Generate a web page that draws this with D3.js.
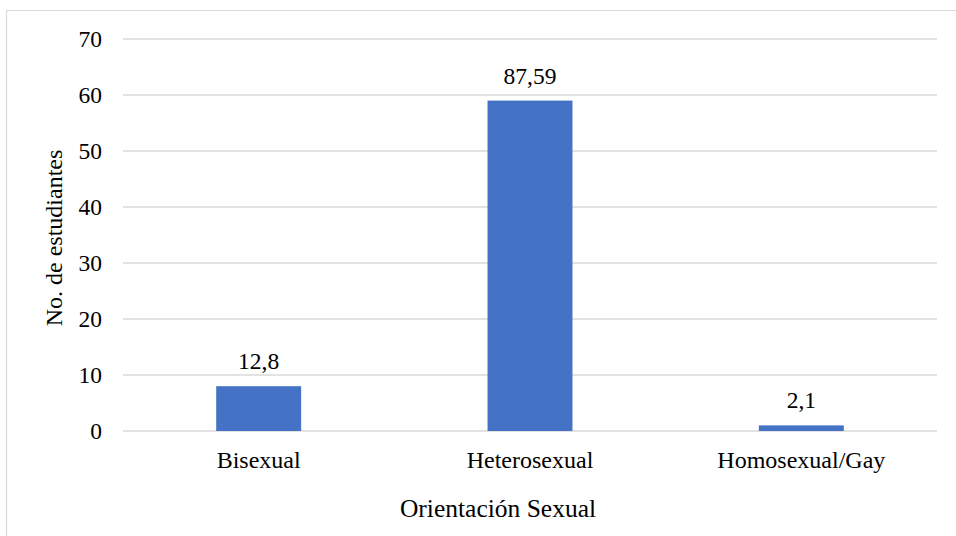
<!DOCTYPE html>
<meta charset="utf-8">

<head>
    <style>
        body {
            margin: 0;
            background: #fff;
        }

        text {
            font-family: "Liberation Serif", "Tinos", "DejaVu Serif", serif;
            fill: #000;
        }
    </style>
    <script src="https://cdn.jsdelivr.net/npm/d3@7"></script>
</head>

<body>
    <script>
        const categories = ["Bisexual", "Heterosexual", "Homosexual/Gay"]
        const counts = [8, 59, 1]
        const percentLabels = ["12,8", "87,59", "2,1"]
        const yTicks = [0, 10, 20, 30, 40, 50, 60, 70]

        const width = 956
        const height = 536
        const margin = { top: 39, right: 19, bottom: 105, left: 123 }
        const innerWidth = width - margin.left - margin.right
        const innerHeight = height - margin.top - margin.bottom
        const serif = "'Liberation Serif', 'Tinos', 'DejaVu Serif', serif"

        const data = categories.map((c, i) => ({ cat: c, value: counts[i], label: percentLabels[i] }))

        const svg = d3.select("body").append("svg")
            .attr("width", width)
            .attr("height", height)
            .style("display", "block")

        // chart frame (only top and left edges are in view)
        svg.append("path")
            .attr("d", "M6.5," + height + "V10.5H" + width)
            .attr("fill", "none")
            .attr("stroke", "#d9d9d9")
            .attr("stroke-width", 1.2)

        const g = svg.append("g")
            .attr("transform", "translate(" + margin.left + "," + margin.top + ")")

        const x = d3.scaleBand()
            .domain(categories)
            .range([0, innerWidth])
            .paddingInner(0.687)
            .paddingOuter(0.3435)

        const y = d3.scaleLinear()
            .domain([0, 70])
            .range([innerHeight, 0])

        // gridlines
        g.selectAll(".grid")
            .data(yTicks)
            .enter()
            .append("line")
            .attr("x1", 0)
            .attr("x2", innerWidth)
            .attr("y1", d => y(d))
            .attr("y2", d => y(d))
            .attr("stroke", "#d9d9d9")
            .attr("stroke-width", 1.5)

        // y tick labels
        const yAxis = g.append("g")
            .call(d3.axisLeft(y).tickValues(yTicks).tickSize(0).tickPadding(21))
        yAxis.attr("font-family", serif)
        yAxis.select(".domain").remove()
        yAxis.selectAll("text")
            .attr("font-size", "23.5px")
            .attr("fill", "#000")

        // bars
        g.selectAll(".bar")
            .data(data)
            .enter()
            .append("rect")
            .attr("x", d => x(d.cat))
            .attr("y", d => y(d.value))
            .attr("width", x.bandwidth())
            .attr("height", d => innerHeight - y(d.value))
            .attr("fill", "#4472c4")

        // data labels
        g.selectAll(".lbl")
            .data(data)
            .enter()
            .append("text")
            .attr("x", d => x(d.cat) + x.bandwidth() / 2)
            .attr("y", d => y(d.value) - 17)
            .attr("text-anchor", "middle")
            .attr("font-size", "23.5px")
            .text(d => d.label)

        // x category labels
        const xAxis = g.append("g")
            .attr("transform", "translate(0," + innerHeight + ")")
            .call(d3.axisBottom(x).tickSize(0).tickPadding(0))
        xAxis.attr("font-family", serif)
        xAxis.select(".domain").remove()
        xAxis.selectAll("text")
            .attr("dy", null)
            .attr("y", 37)
            .attr("font-size", "24px")
            .attr("fill", "#000")

        // axis titles
        svg.append("text")
            .attr("x", margin.left + innerWidth / 2 - 32)
            .attr("y", 517)
            .attr("text-anchor", "middle")
            .attr("font-size", "25.5px")
            .text("Orientación Sexual")

        svg.append("text")
            .attr("transform", "translate(62," + (margin.top + innerHeight / 2 + 3) + ") rotate(-90)")
            .attr("text-anchor", "middle")
            .attr("font-size", "24px")
            .text("No. de estudiantes")
    </script>
</body>
